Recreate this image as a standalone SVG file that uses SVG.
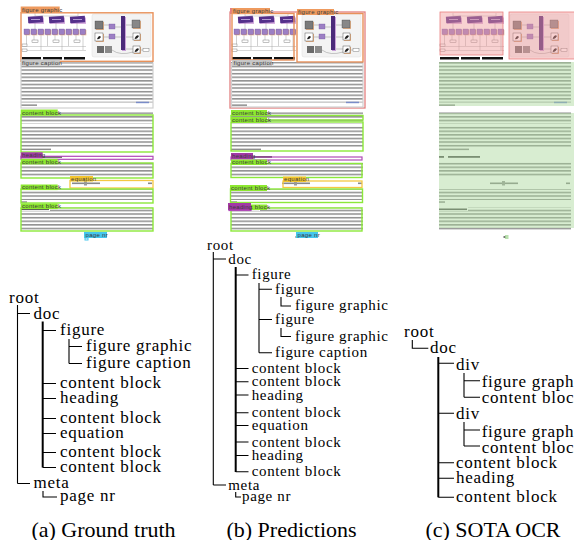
<svg xmlns="http://www.w3.org/2000/svg" xmlns:xlink="http://www.w3.org/1999/xlink" width="574" height="540" viewBox="0 0 574 540">
<style>
.t{font-family:"Liberation Serif","Times New Roman",serif;fill:#000}
.ta{font-size:17px;letter-spacing:0.75px}
.tb{font-size:15px;letter-spacing:0.65px}
.cap{font-family:"Liberation Serif","Times New Roman",serif;font-size:22px;text-anchor:middle;fill:#000}
.ln{fill:none;stroke:#000;stroke-width:1.1}
.lnb{fill:none;stroke:#000;stroke-width:2}
.lb{font-family:"Liberation Sans",Arial,sans-serif;font-size:6px;letter-spacing:0.3px;fill:#3a3a3a}
.og{fill:none;stroke:#E8915A;stroke-width:1.4}
.ogf{fill:#EE9A5E}
.gy{fill:none;stroke:#D0D0D0;stroke-width:1.2}
.gyf{fill:#C8C8C8}
.gr{fill:none;stroke:#8CE83A;stroke-width:1.4}
.grf{fill:#8DE830}
.pu{fill:none;stroke:#B04AB6;stroke-width:1.2}
.puf{fill:#A23AA6}
.ye{fill:none;stroke:#F5C842;stroke-width:1.3}
.yef{fill:#F3C52E}
.cy{fill:none;stroke:#45C6EE;stroke-width:1}
.cyf{fill:#45C6EE}
.rd{fill:none;stroke:#E38080;stroke-width:1.3}
.txt{fill:url(#tl)}
</style>
<defs>
<pattern id="tl" width="8" height="3.6" patternUnits="userSpaceOnUse">
<rect x="0" y="0.9" width="8" height="1.5" fill="#8e8e8e"/>
</pattern>
<g id="col">
<rect x="5" y="17.5" width="15" height="6.5" fill="#d8b0e0"/>
<rect x="4" y="16.3" width="15" height="6.5" fill="#55308c" transform="rotate(-4 11 19)"/>
<rect x="7" y="19" width="9" height="0.8" fill="#c8b8e8"/>
<path d="M11 23 V29 M2.5 35 V46 M10 35 V40 M17 35 V50" stroke="#888" stroke-width="0.4" fill="none"/>
<rect x="0.8" y="29.8" width="5.5" height="5.5" fill="#e8b48a"/>
<rect x="0" y="29" width="5.5" height="5.5" fill="#9c7fc4" stroke="#6a4a9a" stroke-width="0.3"/>
<rect x="7.8" y="29.8" width="5.5" height="5.5" fill="#e8b48a"/>
<rect x="7" y="29" width="5.5" height="5.5" fill="#9c7fc4" stroke="#6a4a9a" stroke-width="0.3"/>
<rect x="14.8" y="29.8" width="5.5" height="5.5" fill="#e8b48a"/>
<rect x="14" y="29" width="5.5" height="5.5" fill="#9c7fc4" stroke="#6a4a9a" stroke-width="0.3"/>
<rect x="8" y="40" width="6" height="2.5" fill="#fff" stroke="#666" stroke-width="0.4"/>
</g>
<g id="pagecontent">
<rect x="20" y="10" width="135" height="232" fill="#fff"/>
<use xlink:href="#col" x="24"/>
<use xlink:href="#col" x="45"/>
<use xlink:href="#col" x="66"/>
<path d="M22 46.5 H86 M22 50.5 H86 M35 13 V16 H78 V13" stroke="#999" stroke-width="0.4" fill="none"/>
<rect x="22" y="44" width="5" height="2.5" fill="#fff" stroke="#666" stroke-width="0.4"/>
<rect x="22" y="49" width="5" height="2.5" fill="#fff" stroke="#666" stroke-width="0.4"/>
<rect x="22" y="57" width="19" height="2.5" fill="#111"/>
<rect x="43" y="57" width="19" height="2.5" fill="#111"/>
<rect x="64" y="57" width="21" height="2.5" fill="#111"/>
<rect x="92" y="14" width="59" height="43" rx="2" fill="#f3f3f3" stroke="#ddd" stroke-width="0.5"/>
<path d="M103 25 H109 M103 37 H109 M115 27 H121 M115 37 H121 M125 25 H132 M125 37 H133 M125 49 H133 M108 50 H112 M112 50 Q120 56 133 52 M140 50 H143" stroke="#777" stroke-width="0.4" fill="none"/>
<rect x="96" y="22" width="8" height="8" fill="#e8b48a"/>
<rect x="95" y="21" width="8" height="8" fill="#7a7a7a" stroke="#333" stroke-width="0.3"/>
<rect x="96" y="34" width="8" height="8" fill="#e8b48a"/>
<rect x="95" y="33" width="8" height="8" fill="#fff" stroke="#333" stroke-width="0.4"/>
<path d="M97 39 Q99 34 101 37 Q99 40 97 39Z" fill="#222"/>
<rect x="97" y="46" width="7" height="7" fill="#6a6a6a"/>
<rect x="105" y="46" width="7" height="7" fill="#8a8a8a"/>
<rect x="109" y="24" width="6" height="5" fill="#9c7fc4" stroke="#6a4a9a" stroke-width="0.3"/>
<rect x="109" y="34" width="6" height="5" fill="#9c7fc4" stroke="#6a4a9a" stroke-width="0.3"/>
<rect x="122" y="17" width="4" height="34" fill="#c8a0d8"/>
<rect x="121" y="16" width="4" height="34" fill="#4b2a7a"/>
<rect x="133" y="21" width="8" height="8" fill="#e8b48a"/>
<rect x="132" y="20" width="8" height="8" fill="#888" stroke="#333" stroke-width="0.3"/>
<rect x="134" y="34" width="7" height="7" fill="#e8b48a"/>
<rect x="133" y="33" width="7" height="7" fill="#fff" stroke="#333" stroke-width="0.4"/>
<path d="M134.5 38.5 Q137 33.5 139 36 Q137 40 134.5 38.5Z" fill="#222"/>
<rect x="134" y="47" width="7" height="7" fill="#e8b48a"/>
<rect x="133" y="46" width="7" height="7" fill="#fff" stroke="#333" stroke-width="0.4"/>
<path d="M134.5 51.5 Q137 46.5 139 49 Q137 53 134.5 51.5Z" fill="#222"/>
<rect x="143" y="48.5" width="6" height="3" fill="#fff" stroke="#666" stroke-width="0.4"/>
<rect class="txt" x="21" y="61.5" width="132" height="41"/>
<rect x="21" y="104.4" width="16" height="1.5" fill="#8e8e8e"/>
<rect x="136" y="101.7" width="13" height="1.5" fill="#7a8cc8"/>
<rect class="txt" x="21" y="111" width="132" height="12.5"/>
<rect class="txt" x="21" y="126" width="132" height="22"/>
<rect x="21" y="148.6" width="30" height="1.5" fill="#8e8e8e"/>
<rect x="21" y="156" width="5" height="1.8" fill="#555"/>
<rect x="30" y="156" width="32" height="1.8" fill="#555"/>
<rect class="txt" x="21" y="162" width="132" height="15"/>
<rect x="72" y="182.5" width="28" height="1.6" fill="#888"/>
<rect x="84" y="181" width="3" height="4.5" fill="#999"/>
<rect x="148" y="182.5" width="4" height="1.6" fill="#888"/>
<rect class="txt" x="21" y="189" width="132" height="11"/>
<rect x="21" y="201.3" width="6" height="1.5" fill="#8e8e8e"/>
<rect x="21" y="208.5" width="28" height="1.6" fill="#555"/>
<rect class="txt" x="50" y="207.5" width="103" height="3.5"/>
<rect class="txt" x="21" y="211" width="132" height="20"/>
<rect x="85.5" y="236" width="2.5" height="2" fill="#777"/>
</g>
</defs>

<rect width="574" height="540" fill="#fff"/>

<!-- Panel (a) page -->
<g id="page-a">
<use xlink:href="#pagecontent"/>
<rect class="og" x="21" y="12.8" width="132" height="48.5"/>
<rect class="ogf" x="20.7" y="6.5" width="39" height="6.5"/>
<text class="lb" x="22" y="11.8">figure graphic</text>
<rect class="gy" x="21" y="63" width="132" height="45"/>
<rect class="gyf" x="20.7" y="59.5" width="39" height="6"/>
<text class="lb" x="22" y="64.6">figure caption</text>
<rect class="gr" x="21" y="115" width="132" height="37"/>
<rect class="grf" x="20.7" y="109.5" width="37" height="6"/>
<text class="lb" x="22" y="114.6">content block</text>
<rect class="pu" x="21" y="156.3" width="132" height="3"/>
<rect class="puf" x="20.7" y="152.3" width="22" height="6"/>
<text class="lb" x="22" y="157.4">heading</text>
<rect class="gr" x="21" y="163" width="132" height="15"/>
<rect class="grf" x="20.7" y="158.8" width="37" height="5.6"/>
<text class="lb" x="22" y="163.7">content block</text>
<rect class="ye" x="70" y="180.5" width="83" height="7.5"/>
<rect class="yef" x="70" y="176" width="23" height="5.5"/>
<text class="lb" x="71" y="180.8">equation</text>
<rect class="gr" x="21" y="189" width="132" height="14"/>
<rect class="grf" x="20.7" y="184.5" width="37" height="5.6"/>
<text class="lb" x="22" y="189.4">content block</text>
<rect class="gr" x="21" y="208" width="132" height="23"/>
<rect class="grf" x="20.7" y="203.5" width="37" height="5.6"/>
<text class="lb" x="22" y="208.4">content block</text>
<rect class="cyf" x="84" y="232" width="23" height="6"/>
<text class="lb" x="85.5" y="237">page nr</text>
<rect class="cy" x="85" y="238" width="3" height="2"/>
</g>

<!-- Panel (b) page -->
<g id="page-b">
<use xlink:href="#pagecontent" x="210"/>
<rect class="rd" x="230" y="12" width="135" height="96"/>
<rect x="230" y="8" width="4" height="6" fill="#E38080"/>
<rect class="og" x="232" y="13.5" width="62" height="46.5"/>
<rect class="ogf" x="232" y="8" width="38" height="6"/>
<text class="lb" x="233" y="12.8">figure graphic</text>
<rect class="og" x="297" y="13.5" width="66" height="48.5"/>
<rect class="ogf" x="297" y="9" width="37" height="6"/>
<text class="lb" x="298" y="13.8">figure graphic</text>
<rect class="gy" x="231.5" y="63.5" width="131.5" height="43.5"/>
<rect class="gyf" x="232" y="60" width="40" height="6"/>
<text class="lb" x="233.5" y="65">figure caption</text>
<rect class="gr" x="231" y="115.5" width="132" height="4.5"/>
<rect class="gr" x="231" y="122" width="132" height="29"/>
<rect class="grf" x="231" y="110" width="36" height="6"/>
<text class="lb" x="232" y="114.9">content block</text>
<rect class="grf" x="231" y="117" width="36" height="6"/>
<text class="lb" x="232" y="121.9">content block</text>
<rect class="pu" x="231" y="157" width="131" height="3"/>
<rect class="puf" x="231" y="153" width="22" height="6"/>
<text class="lb" x="232" y="158">heading</text>
<rect class="gr" x="231" y="163.5" width="131" height="14"/>
<rect class="grf" x="231" y="159.5" width="36" height="5.5"/>
<text class="lb" x="232" y="164.3">content block</text>
<rect class="ye" x="283" y="181" width="79" height="6.5"/>
<rect class="yef" x="283" y="176.5" width="23" height="5.5"/>
<text class="lb" x="284" y="181.3">equation</text>
<rect class="gr" x="230.5" y="189" width="132" height="13.5"/>
<rect class="grf" x="230" y="185" width="37" height="6"/>
<text class="lb" x="231" y="189.9">content block</text>
<rect class="gr" x="231" y="208" width="131" height="23"/>
<rect class="grf" x="230" y="204.5" width="37" height="5.5"/>
<text class="lb" x="231" y="209.3">content block</text>
<rect class="pu" x="229" y="207.5" width="22" height="3"/>
<rect class="puf" x="228" y="203" width="23" height="7"/>
<text class="lb" x="229" y="208.5">heading</text>
<rect class="cyf" x="296" y="232" width="22" height="6"/>
<text class="lb" x="297.5" y="237">page nr</text>
</g>

<!-- Panel (c) page -->
<g id="page-c">
<use xlink:href="#pagecontent" x="418"/>
<rect x="440" y="12" width="63" height="43" fill="#F09A9A" fill-opacity="0.45" stroke="#E88080" stroke-width="0.8"/>
<rect x="509" y="12" width="66" height="47" fill="#F09A9A" fill-opacity="0.45" stroke="#E88080" stroke-width="0.8"/>
<rect x="439" y="62" width="136" height="44" fill="#A8D89A" fill-opacity="0.45"/>
<rect x="439" y="113" width="136" height="115" fill="#A8D89A" fill-opacity="0.45"/>
<rect x="505" y="235" width="3.5" height="4" fill="#A8D89A" fill-opacity="0.8"/>
</g>

<!-- Tree (a) -->
<g id="a-connectors">
<path class="ln" d="M17.5 305 V483.5 M17.5 313.5 H30 M17.5 483.5 H30"/>
<path class="lnb" d="M42.7 321.5 V467.5"/>
<path class="ln" d="M42.7 330.5 H56 M42.7 383.5 H56 M42.7 398.5 H56 M42.7 418.5 H56 M42.7 433.5 H56 M42.7 452.5 H56 M42.7 467.5 H56"/>
<path class="ln" d="M69 339 V363.5 M69 346.5 H82 M69 363.5 H82"/>
<path class="ln" d="M43 491 V497 H57"/>
</g>
<g id="a-root"><text class="t ta" x="9" y="303">root</text></g>
<g id="a-doc"><text class="t ta" x="33.5" y="318.5">doc</text></g>
<g id="a-figure"><text class="t ta" x="60" y="335">figure</text></g>
<g id="a-figure-graphic"><text class="t ta" x="86" y="351">figure graphic</text></g>
<g id="a-figure-caption"><text class="t ta" x="86" y="368">figure caption</text></g>
<g id="a-content-block-1"><text class="t ta" x="60" y="388">content block</text></g>
<g id="a-heading"><text class="t ta" x="60" y="403">heading</text></g>
<g id="a-content-block-2"><text class="t ta" x="60" y="423">content block</text></g>
<g id="a-equation"><text class="t ta" x="60" y="438">equation</text></g>
<g id="a-content-block-3"><text class="t ta" x="60" y="457">content block</text></g>
<g id="a-content-block-4"><text class="t ta" x="60" y="472">content block</text></g>
<g id="a-meta"><text class="t ta" x="33.5" y="488">meta</text></g>
<g id="a-page-nr"><text class="t ta" x="60" y="501">page nr</text></g>

<!-- Tree (b) -->
<g id="b-connectors">
<path class="ln" d="M213.3 252 V485 M213.3 259 H226 M213.3 485 H226"/>
<path class="lnb" d="M235.7 267 V472"/>
<path class="ln" d="M235.7 275 H248.5 M235.7 368.5 H248.5 M235.7 381.7 H248.5 M235.7 395 H248.5 M235.7 412.7 H248.5 M235.7 425.5 H248.5 M235.7 442 H248.5 M235.7 455.5 H248.5 M235.7 471.7 H248.5"/>
<path class="ln" d="M259 283 V352.7 M259 289.3 H272 M259 319.5 H272 M259 352.7 H272"/>
<path class="ln" d="M281 297 V306 H291 M281 328 V336.5 H291"/>
<path class="ln" d="M235.7 492 V497 H241"/>
</g>
<g id="b-root"><text class="t tb" x="207" y="250">root</text></g>
<g id="b-doc"><text class="t tb" x="228.3" y="263.5">doc</text></g>
<g id="b-figure"><text class="t tb" x="251.7" y="279">figure</text></g>
<g id="b-figure-1"><text class="t tb" x="275" y="293.5">figure</text></g>
<g id="b-figure-graphic-1"><text class="t tb" x="295" y="310">figure graphic</text></g>
<g id="b-figure-2"><text class="t tb" x="275" y="324">figure</text></g>
<g id="b-figure-graphic-2"><text class="t tb" x="295" y="340.5">figure graphic</text></g>
<g id="b-figure-caption"><text class="t tb" x="275" y="357">figure caption</text></g>
<g id="b-content-block-1"><text class="t tb" x="251.7" y="373">content block</text></g>
<g id="b-content-block-2"><text class="t tb" x="251.7" y="386">content block</text></g>
<g id="b-heading-1"><text class="t tb" x="251.7" y="399.5">heading</text></g>
<g id="b-content-block-3"><text class="t tb" x="251.7" y="417">content block</text></g>
<g id="b-equation"><text class="t tb" x="251.7" y="430">equation</text></g>
<g id="b-content-block-4"><text class="t tb" x="251.7" y="446.5">content block</text></g>
<g id="b-heading-2"><text class="t tb" x="251.7" y="460">heading</text></g>
<g id="b-content-block-5"><text class="t tb" x="251.7" y="476">content block</text></g>
<g id="b-meta"><text class="t tb" x="228.3" y="490">meta</text></g>
<g id="b-page-nr"><text class="t tb" x="242" y="500.5">page nr</text></g>

<!-- Tree (c) -->
<g id="c-connectors">
<path class="ln" d="M412.3 340 V348.3 H428.3"/>
<path class="lnb" d="M438.3 357 V497.3"/>
<path class="ln" d="M438.3 363.3 H454 M438.3 413.3 H454 M438.3 462.7 H454 M438.3 478.3 H454 M438.3 497.3 H454"/>
<path class="ln" d="M464 373 V397.3 M464 380.7 H480 M464 397.3 H480"/>
<path class="ln" d="M464 422 V446 M464 430 H480 M464 446 H480"/>
</g>
<g id="c-root"><text class="t ta" x="404" y="337.3">root</text></g>
<g id="c-doc"><text class="t ta" x="430" y="353.3">doc</text></g>
<g id="c-div-1"><text class="t ta" x="456" y="370">div</text></g>
<g id="c-figure-graphic-1"><text class="t ta" x="481.7" y="386.7">figure graphic</text></g>
<g id="c-content-block-1"><text class="t ta" x="481.7" y="402.7">content block</text></g>
<g id="c-div-2"><text class="t ta" x="456" y="419.3">div</text></g>
<g id="c-figure-graphic-2"><text class="t ta" x="481.7" y="436.7">figure graphic</text></g>
<g id="c-content-block-2"><text class="t ta" x="481.7" y="452.7">content block</text></g>
<g id="c-content-block-3"><text class="t ta" x="456" y="468.3">content block</text></g>
<g id="c-heading"><text class="t ta" x="456" y="483">heading</text></g>
<g id="c-content-block-4"><text class="t ta" x="456" y="501.7">content block</text></g>

<!-- Captions -->
<text class="cap" x="103.5" y="536.5">(a) Ground truth</text>
<text class="cap" x="291.5" y="536.5">(b) Predictions</text>
<text class="cap" x="493" y="536.5">(c) SOTA OCR</text>
</svg>
